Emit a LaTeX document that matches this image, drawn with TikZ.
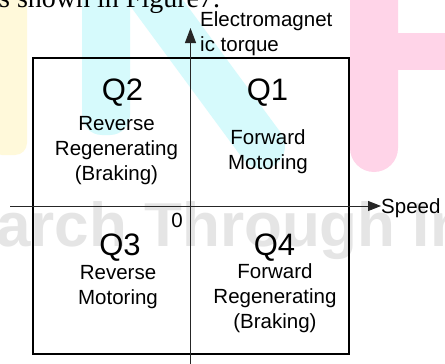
\documentclass[tikz,border=0pt]{standalone}
\usepackage{fontspec}
\setmainfont{Liberation Sans}
\newfontfamily\serifface{Liberation Serif}
\usetikzlibrary{arrows.meta}
\definecolor{wmyellow}{RGB}{255,249,218}
\definecolor{wmcyan}{RGB}{214,250,252}
\definecolor{wmpink}{RGB}{255,212,232}
\definecolor{wmgray}{RGB}{229,229,229}
\tikzset{
  quadlabel/.style={anchor=base, inner sep=0pt, font=\fontsize{31}{31}\selectfont},
  modeline/.style={anchor=base, inner sep=0pt, font=\fontsize{20.5}{25}\selectfont},
  axislabel/.style={anchor=base west, inner sep=0pt, font=\fontsize{20.5}{25}\selectfont},
  axisline/.style={line width=1pt, draw=black!85},
}
\begin{document}
\begin{tikzpicture}[x=1pt, y=-1pt]
\useasboundingbox (0,0) rectangle (445,364);
\clip (0,0) rectangle (445,364);
\fill[white] (0,0) rectangle (445,364);

% pale background lettering
\fill[wmyellow, rounded corners=12pt] (-10,-20) rectangle (27,155);
\fill[wmcyan, rounded corners=20pt] (82,-20) rectangle (130,135);
\draw[wmcyan, line width=46pt, line cap=round] (136,-25) -- (262,146);
\fill[wmpink, rounded corners=24pt] (350,-40) rectangle (398,172);
\fill[wmpink] (390,33) rectangle (450,70);
\node[anchor=base west, inner sep=0pt, text=wmgray,
      font=\fontsize{62}{62}\selectfont\bfseries] (wm) at (-4,246) {arch Through In};

% running text above the figure
\node[anchor=base west, inner sep=0pt, font=\serifface\fontsize{28}{28}\selectfont]
  (lead) at (-1,7) {s shown in Figure7.};

% quadrant frame
\node[draw, line width=2pt, minimum width=316pt, minimum height=296pt,
      inner sep=0pt] (frame) at (191,206) {};

% axes
\coordinate (ybot) at (190.5,368);
\coordinate (ytop) at (190.5,28);
\coordinate (xleft) at (10,206);
\coordinate (xright) at (381,206);
\draw[axisline, -{Triangle[length=15pt, width=11pt]}] (ybot) -- (ytop);
\draw[axisline, -{Triangle[length=13pt, width=10pt]}] (xleft) -- (xright);

\node[axislabel] (torque1) at (200,27) {Electromagnet};
\node[axislabel] (torque2) at (200,52) {ic torque};
\node[axislabel] (speed) at (381,213) {Speed};
\node[modeline] (zero) at (177,227) {0};

% quadrant contents
\node[quadlabel] (q2) at (122.5,100) {Q2};
\node[modeline] (q2a) at (116.5,130) {Reverse};
\node[modeline] (q2b) at (116.5,155) {Regenerating};
\node[modeline] (q2c) at (116.5,180) {(Braking)};

\node[quadlabel] (q1) at (267.5,100) {Q1};
\node[modeline] (q1a) at (268,144.5) {Forward};
\node[modeline] (q1b) at (268,169) {Motoring};

\node[quadlabel] (q3) at (120,255) {Q3};
\node[modeline] (q3a) at (118,279) {Reverse};
\node[modeline] (q3b) at (118,304) {Motoring};

\node[quadlabel] (q4) at (274.5,255) {Q4};
\node[modeline] (q4a) at (275,278) {Forward};
\node[modeline] (q4b) at (275,303) {Regenerating};
\node[modeline] (q4c) at (275,328) {(Braking)};
\end{tikzpicture}
\end{document}
